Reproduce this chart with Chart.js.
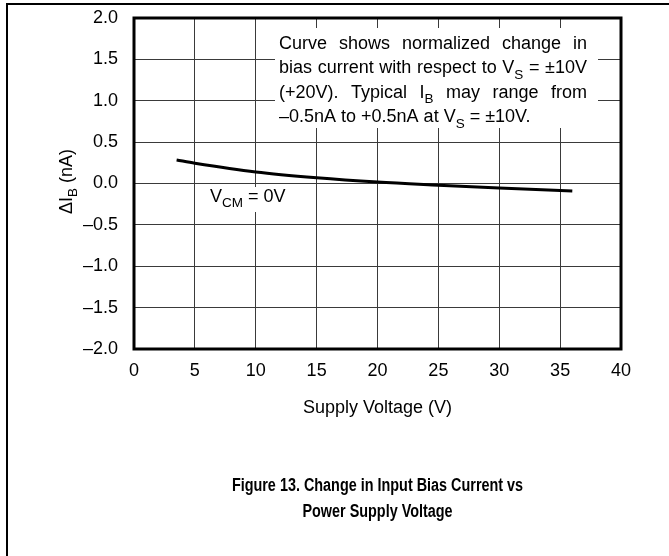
<!DOCTYPE html>
<html>
<head>
<meta charset="utf-8">
<script src="https://cdn.jsdelivr.net/npm/chart.js@4.4.0/dist/chart.umd.min.js"></script>
<style>
  html, body { margin: 0; padding: 0; background: #fff; }
</style>
</head>
<body>
<canvas id="chart" width="669" height="556"></canvas>
<script>
// values
const supplyVoltage = [3.5, 5, 10, 15, 20, 25, 30, 36];
const deltaIb = [0.284, 0.246, 0.14, 0.07, 0.018, -0.02, -0.055, -0.092];
const xTicks = [0, 5, 10, 15, 20, 25, 30, 35, 40];
const yTicks = [-2.0, -1.5, -1.0, -0.5, 0.0, 0.5, 1.0, 1.5, 2.0];
const yTickLabels = ['–2.0', '–1.5', '–1.0', '–0.5', '0.0', '0.5', '1.0', '1.5', '2.0'];
const xTitle = 'Supply Voltage (V)';
const yTitle = 'ΔI_{B} (nA)';
const curveLabel = 'V_{CM} = 0V';
const noteLines = [
  'Curve shows normalized change in',
  'bias current with respect to V_{S} = ±10V',
  '(+20V). Typical I_{B} may range from',
  '–0.5nA to +0.5nA at V_{S} = ±10V.'
];
const titleLines = [
  'Figure 13. Change in Input Bias Current vs',
  'Power Supply Voltage'
];

const FONT = '"Liberation Sans", Arial, sans-serif';

// split "V_{S}" style strings into normal / subscript runs
function parseRuns(str) {
  const parts = str.split(/_\{([^}]*)\}/);
  return parts.map((t, i) => ({ t: t, sub: i % 2 === 1 })).filter(r => r.t.length);
}

function richWidth(ctx, str, size) {
  let w = 0;
  parseRuns(str).forEach(r => {
    ctx.font = (r.sub ? size * 0.75 : size) + 'px ' + FONT;
    w += ctx.measureText(r.t).width;
  });
  return w;
}

function drawRich(ctx, str, x, y, size) {
  ctx.textBaseline = 'middle';
  ctx.textAlign = 'left';
  parseRuns(str).forEach(r => {
    const s = r.sub ? size * 0.75 : size;
    ctx.font = s + 'px ' + FONT;
    ctx.fillText(r.t, x, r.sub ? y + size * 0.35 : y);
    x += ctx.measureText(r.t).width;
  });
  return x;
}

function drawJustified(ctx, str, x, y, width, size) {
  const words = str.split(' ');
  const widths = words.map(w => richWidth(ctx, w, size));
  const total = widths.reduce((a, b) => a + b, 0);
  const gap = (width - total) / (words.length - 1);
  words.forEach((w, i) => {
    drawRich(ctx, w, x, y, size);
    x += widths[i] + gap;
  });
}

const decorPlugin = {
  id: 'decor',
  beforeDatasetsDraw(chart) {
    const ctx = chart.ctx;
    ctx.save();
    // white boxes under the texts, hiding the grid
    ctx.fillStyle = '#fff';
    ctx.fillRect(275, 28, 323, 100);
    ctx.fillRect(205, 187, 87, 25);
    ctx.restore();
  },
  afterDraw(chart) {
    const ctx = chart.ctx;
    const a = chart.chartArea;
    ctx.save();
    // outer frame (left and top only)
    ctx.strokeStyle = '#000';
    ctx.lineWidth = 2;
    ctx.beginPath();
    ctx.moveTo(7, 556);
    ctx.lineTo(7, 4);
    ctx.lineTo(669, 4);
    ctx.stroke();

    // plot border
    ctx.lineWidth = 3;
    ctx.strokeRect(a.left, a.top, a.right - a.left, a.bottom - a.top);

    ctx.fillStyle = '#000';
    // note text
    const noteSize = 18;
    noteLines.forEach((line, i) => {
      const y = 44 + i * 24.5;
      if (i < noteLines.length - 1) drawJustified(ctx, line, 279, y, 308, noteSize);
      else drawRich(ctx, line, 279, y, noteSize);
    });

    // curve label
    drawRich(ctx, curveLabel, 210, 197, 18);

    // axis titles
    const cx = (a.left + a.right) / 2;
    const xw = richWidth(ctx, xTitle, 18);
    drawRich(ctx, xTitle, cx - xw / 2, 408, 18);

    ctx.save();
    ctx.translate(67, (a.top + a.bottom) / 2 - 2);
    ctx.rotate(-Math.PI / 2);
    const yw = richWidth(ctx, yTitle, 18);
    drawRich(ctx, yTitle, -yw / 2, 0, 18);
    ctx.restore();

    // figure caption, condensed bold
    ctx.font = 'bold 18px ' + FONT;
    ctx.textAlign = 'center';
    ctx.textBaseline = 'middle';
    titleLines.forEach((line, i) => {
      ctx.save();
      ctx.translate(cx, 486 + i * 26);
      ctx.scale(0.8, 1);
      ctx.fillText(line, 0, 0);
      ctx.restore();
    });
    ctx.restore();
  }
};

const ctx = document.getElementById('chart').getContext('2d');
new Chart(ctx, {
  type: 'line',
  data: {
    datasets: [{
      data: supplyVoltage.map((v, i) => ({ x: v, y: deltaIb[i] })),
      borderColor: '#000',
      borderWidth: 3,
      pointRadius: 0,
      fill: false,
      cubicInterpolationMode: 'monotone'
    }]
  },
  options: {
    responsive: false,
    animation: false,
    layout: { padding: { left: 0, top: 18, right: 48, bottom: 167 } },
    plugins: {
      legend: { display: false },
      tooltip: { enabled: false }
    },
    scales: {
      x: {
        type: 'linear',
        min: 0,
        max: 40,
        afterBuildTicks: s => { s.ticks = xTicks.map(v => ({ value: v })); },
        afterFit: s => { s.height = 40; s.paddingLeft = 0; s.paddingRight = 0; },
        grid: { color: '#3a3a3a', lineWidth: 1, drawTicks: false },
        border: { display: false },
        ticks: {
          color: '#000',
          font: { family: FONT, size: 18 },
          padding: 11,
          maxRotation: 0
        }
      },
      y: {
        type: 'linear',
        min: -2,
        max: 2,
        afterBuildTicks: s => { s.ticks = yTicks.map(v => ({ value: v })); },
        afterFit: s => { s.width = 134; s.paddingTop = 0; s.paddingBottom = 0; },
        grid: { color: '#3a3a3a', lineWidth: 1, drawTicks: false },
        border: { display: false },
        ticks: {
          color: '#000',
          font: { family: FONT, size: 18 },
          padding: 16,
          callback: (v, i) => yTickLabels[i]
        }
      }
    }
  },
  plugins: [decorPlugin]
});
</script>
</body>
</html>
